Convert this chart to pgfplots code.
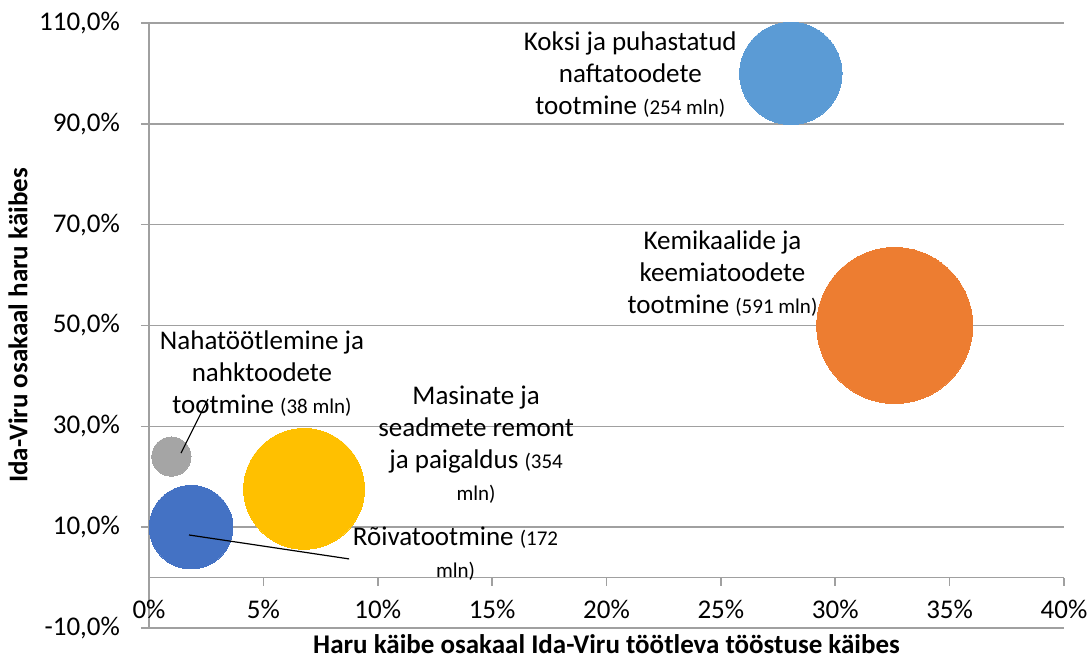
\documentclass[border=0pt]{standalone}
\usepackage{fontspec}
\setmainfont{Carlito}
\usepackage{pgfplots}
\pgfplotsset{compat=1.18}
\definecolor{cKoksi}{HTML}{5B9BD5}
\definecolor{cKemi}{HTML}{ED7D31}
\definecolor{cNaha}{HTML}{A5A5A5}
\definecolor{cMasin}{HTML}{FFC000}
\definecolor{cRoiva}{HTML}{4472C4}
\definecolor{gridgray}{RGB}{160,160,160}
\begin{document}
\begin{tikzpicture}
\path[use as bounding box] (-74.5pt,-15.5pt) rectangle (471pt,314pt);
\begin{axis}[
  at={(0,0)}, anchor=south west,
  scale only axis, width=457.5pt, height=302.5pt,
  xmin=0, xmax=40, ymin=-10, ymax=110,
  axis x line=middle, axis y line=left,
  x axis line style={-, draw=gridgray, line width=0.8pt},
  y axis line style={-, draw=gridgray, line width=0.8pt},
  hide obscured x ticks=false, hide obscured y ticks=false,
  xtick={0,5,10,15,20,25,30,35,40},
  xticklabels={0\%,5\%,10\%,15\%,20\%,25\%,30\%,35\%,40\%},
  ytick={-10,10,30,50,70,90,110},
  yticklabels={{-10,0\%},{10,0\%},{30,0\%},{50,0\%},{70,0\%},{90,0\%},{110,0\%}},
  ymajorgrids, grid style={draw=gridgray, line width=0.8pt},
  tick style={draw=gridgray, line width=0.8pt},
  tick align=outside, major tick length=4pt,
  xticklabel style={font=\fontsize{13.5}{16}\selectfont, yshift=-3.5pt},
  yticklabel style={font=\fontsize{13.5}{16}\selectfont, xshift=-7pt},
  clip=false,
  xlabel={\textbf{Haru käibe osakaal Ida-Viru töötleva tööstuse käibes}},
  ylabel={\textbf{Ida-Viru osakaal haru käibes}},
  xlabel style={at={(axis description cs:0.5,0)}, anchor=center, yshift=-8pt, font=\fontsize{13.5}{16}\selectfont},
  ylabel style={at={(axis description cs:0,0.5)}, anchor=center, yshift=65.5pt, font=\fontsize{13.5}{16}\selectfont},
]
% Koksi ja puhastatud naftatoodete tootmine (254 mln)
\addplot[only marks, mark=*, mark size=25.6pt, mark options={draw=cKoksi, fill=cKoksi, line width=0pt}] coordinates {(28.06,100.0)};
% Kemikaalide ja keemiatoodete tootmine (591 mln)
\addplot[only marks, mark=*, mark size=39.0pt, mark options={draw=cKemi, fill=cKemi, line width=0pt}] coordinates {(32.6,50.0)};
% Nahatootlemine (38 mln)
\addplot[only marks, mark=*, mark size=9.8pt, mark options={draw=cNaha, fill=cNaha, line width=0pt}] coordinates {(0.98,24.0)};
% Masinate ja seadmete remont (354 mln)
\addplot[only marks, mark=*, mark size=30.2pt, mark options={draw=cMasin, fill=cMasin, line width=0pt}] coordinates {(6.78,17.6)};
% Roivatootmine (172 mln)
\addplot[only marks, mark=*, mark size=20.9pt, mark options={draw=cRoiva, fill=cRoiva, line width=0pt}] coordinates {(1.84,10.0)};

\coordinate (n1) at (axis cs:1.4,24.7);
\coordinate (n2) at (axis cs:2.58,35.4);
\coordinate (r1) at (axis cs:1.75,8.45);
\coordinate (r2) at (axis cs:8.75,3.7);

\begin{scope}[every node/.style={align=center, font=\fontsize{13.5}{16}\selectfont, inner sep=0pt}]
\node at (axis cs:21.04,99.7) {Koksi ja puhastatud\\naftatoodete\\tootmine {\fontsize{10.5}{12}\selectfont(254 mln)}};
\node at (axis cs:25.07,60.2) {Kemikaalide ja\\keemiatoodete\\tootmine {\fontsize{10.5}{12}\selectfont(591 mln)}};
\node at (axis cs:4.94,40.4) {Nahatöötlemine ja\\nahktoodete\\tootmine {\fontsize{10.5}{12}\selectfont(38 mln)}};
\node at (axis cs:14.3,26.4) {Masinate ja\\seadmete remont\\ja paigaldus {\fontsize{10.5}{12}\selectfont(354}\\{\fontsize{10.5}{12}\selectfont mln)}};
\node at (axis cs:13.4,4.7) {Rõivatootmine {\fontsize{10.5}{12}\selectfont(172}\\{\fontsize{10.5}{12}\selectfont mln)}};
\end{scope}
\end{axis}
\draw[black, line width=0.6pt] (n1) -- (n2);
\draw[black, line width=0.6pt] (r1) -- (r2);
\end{tikzpicture}
\end{document}
